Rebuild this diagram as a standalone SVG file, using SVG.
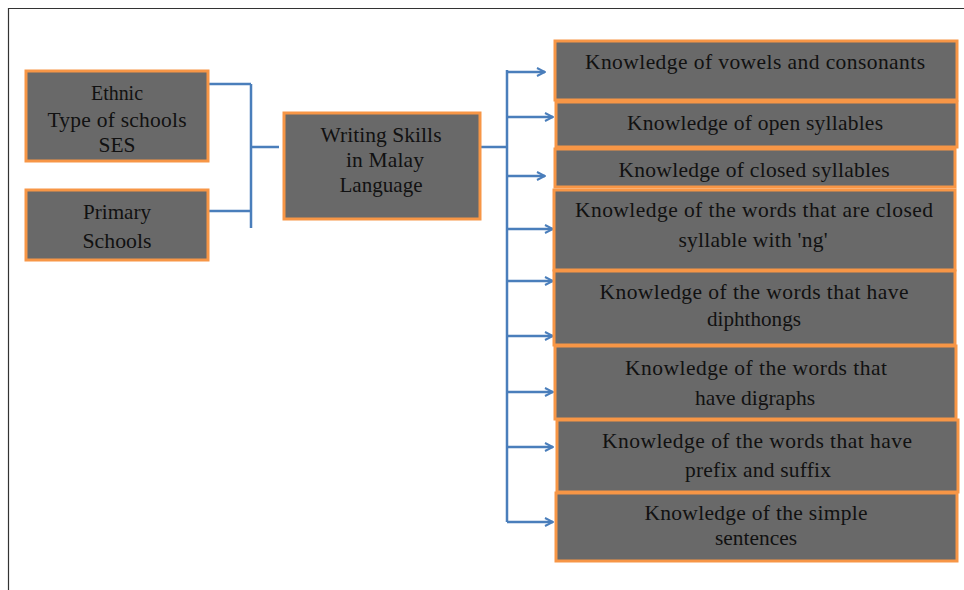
<svg xmlns="http://www.w3.org/2000/svg" width="964" height="590" viewBox="0 0 964 590">
<style>
.box{fill:#696969;stroke:#F79646;stroke-width:3}
.t{font-family:"Liberation Serif","Times New Roman",serif;font-size:21.5px;fill:#111;text-anchor:middle}
.c{fill:none;stroke:#4A7EBB;stroke-width:2.5}
.frame{fill:none;stroke:#333;stroke-width:1.2}
</style>
<defs>
<marker id="ah" viewBox="0 0 10 10" refX="9" refY="5" markerWidth="10" markerHeight="10" markerUnits="userSpaceOnUse" orient="auto">
<path d="M1,1 L9,5 L1,9" fill="none" stroke="#4A7EBB" stroke-width="2"/>
</marker>
</defs>
<path class="frame" d="M8.5,590 V8.5 H964"/>
<g id="connectors">
<path class="c" d="M208,84 H251 M251,84 V228 M208,211 H251 M251,147 H279"/>
<path class="c" d="M480,147 H507 M507,70 V522"/>
<path class="c" marker-end="url(#ah)" d="M507,72 H545"/>
<path class="c" marker-end="url(#ah)" d="M507,117 H553"/>
<path class="c" marker-end="url(#ah)" d="M507,176 H545"/>
<path class="c" marker-end="url(#ah)" d="M507,229 H553"/>
<path class="c" marker-end="url(#ah)" d="M507,281 H553"/>
<path class="c" marker-end="url(#ah)" d="M507,336 H553"/>
<path class="c" marker-end="url(#ah)" d="M507,392 H553"/>
<path class="c" marker-end="url(#ah)" d="M507,447 H553"/>
<path class="c" marker-end="url(#ah)" d="M507,522 H553"/>
</g>
<g id="n-ethnic">
<rect class="box" x="26" y="71" width="182" height="90"/>
<text class="t" x="117" y="100" textLength="52" lengthAdjust="spacingAndGlyphs">Ethnic</text>
<text class="t" x="117" y="127" textLength="139" lengthAdjust="spacing">Type of schools</text>
<text class="t" x="117" y="152" textLength="37" lengthAdjust="spacingAndGlyphs">SES</text>
</g>
<g id="n-primary">
<rect class="box" x="26" y="190" width="182" height="70"/>
<text class="t" x="117" y="219" textLength="68" lengthAdjust="spacingAndGlyphs">Primary</text>
<text class="t" x="117" y="248" textLength="69" lengthAdjust="spacingAndGlyphs">Schools</text>
</g>
<g id="n-writing">
<rect class="box" x="284" y="113" width="196" height="106"/>
<text class="t" x="381" y="142" textLength="121" lengthAdjust="spacing">Writing Skills</text>
<text class="t" x="385" y="167" textLength="78" lengthAdjust="spacing">in Malay</text>
<text class="t" x="381" y="192" textLength="83" lengthAdjust="spacingAndGlyphs">Language</text>
</g>
<g id="n-k1">
<rect class="box" x="555" y="41" width="402" height="59"/>
<text class="t" x="755" y="69" textLength="340" lengthAdjust="spacing">Knowledge of vowels and consonants</text>
</g>
<g id="n-k2">
<rect class="box" x="556" y="102" width="401" height="45"/>
<text class="t" x="755" y="130" textLength="256" lengthAdjust="spacing">Knowledge of open syllables</text>
</g>
<g id="n-k3">
<rect class="box" x="555" y="149" width="400" height="38"/>
<text class="t" x="754" y="177" textLength="271" lengthAdjust="spacing">Knowledge of closed syllables</text>
</g>
<g id="n-k4">
<rect class="box" x="554" y="190" width="401" height="80"/>
<text class="t" x="754" y="217" textLength="358" lengthAdjust="spacing">Knowledge of the words that are closed</text>
<text class="t" x="753" y="247" textLength="149" lengthAdjust="spacing">syllable with 'ng'</text>
</g>
<g id="n-k5">
<rect class="box" x="554" y="271" width="401" height="74"/>
<text class="t" x="754" y="299" textLength="309" lengthAdjust="spacing">Knowledge of the words that have</text>
<text class="t" x="754" y="326" textLength="94" lengthAdjust="spacingAndGlyphs">diphthongs</text>
</g>
<g id="n-k6">
<rect class="box" x="555" y="346" width="401" height="73"/>
<text class="t" x="756" y="375" textLength="262" lengthAdjust="spacing">Knowledge of the words that</text>
<text class="t" x="755" y="405" textLength="120" lengthAdjust="spacing">have digraphs</text>
</g>
<g id="n-k7">
<rect class="box" x="557" y="420" width="401" height="72"/>
<text class="t" x="757" y="448" textLength="310" lengthAdjust="spacing">Knowledge of the words that have</text>
<text class="t" x="758" y="477" textLength="146" lengthAdjust="spacing">prefix and suffix</text>
</g>
<g id="n-k8">
<rect class="box" x="556" y="493" width="401" height="68"/>
<text class="t" x="756" y="520" textLength="223" lengthAdjust="spacing">Knowledge of the simple</text>
<text class="t" x="756" y="545" textLength="82" lengthAdjust="spacingAndGlyphs">sentences</text>
</g>
</svg>
